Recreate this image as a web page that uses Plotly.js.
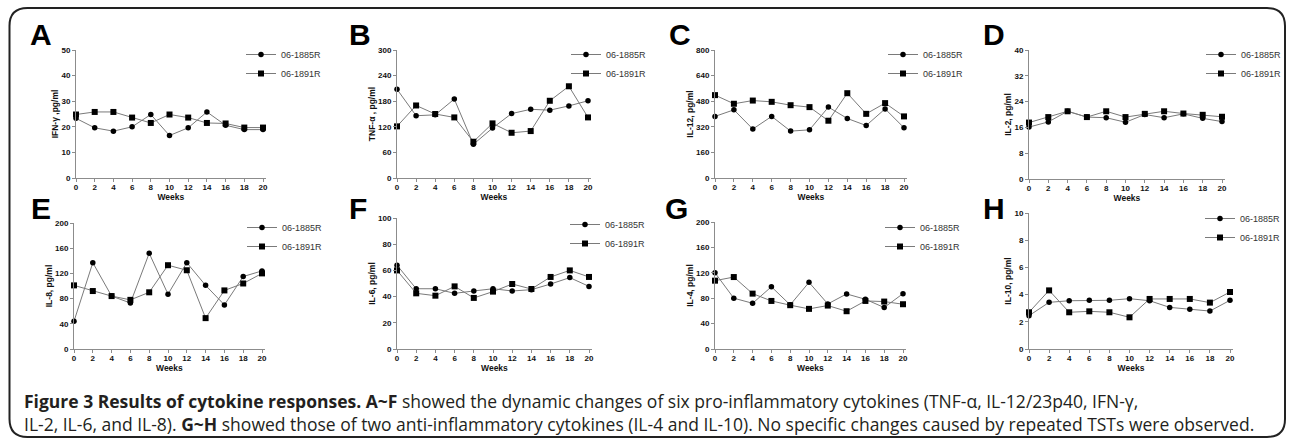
<!DOCTYPE html>
<html><head><meta charset="utf-8">
<script src="https://cdn.plot.ly/plotly-3.0.1.min.js"></script>
<style>html,body{margin:0;padding:0;background:#fff;overflow:hidden}#chart{width:1290px;height:441px}</style>
</head><body><div id="chart"></div>
<script>
// ---------- data ----------
const weeks = [0, 2, 4, 6, 8, 10, 12, 14, 16, 18, 20];
const seriesNames = ['06-1885R', '06-1891R'];
const panelLetters = ['A', 'B', 'C', 'D', 'E', 'F', 'G', 'H'];
const yTitles = ['IFN-γ ,pg/ml', 'TNF-α , pg/ml', 'IL-12, pg/ml', 'IL-2, pg/ml', 'IL-8, pg/ml', 'IL-6, pg/ml', 'IL-4, pg/ml', 'IL-10, pg/ml'];
const xTitle = 'Weeks';

const ifng1885 = [23.3, 19.6, 18.3, 20.0, 24.8, 16.6, 19.6, 25.8, 20.6, 18.9, 18.9];
const ifng1891 = [24.8, 25.8, 25.8, 23.6, 21.5, 24.8, 23.6, 21.5, 21.3, 19.7, 19.7];
const tnfa1885 = [208, 146, 148, 185, 79, 117, 151, 161, 159, 169, 181];
const tnfa1891 = [121, 170, 150, 142, 85, 128, 106, 110, 181, 215, 142];
const il12_1885 = [385, 426, 306, 385, 293, 301, 443, 372, 328, 432, 314];
const il12_1891 = [518, 464, 484, 476, 455, 443, 358, 530, 401, 468, 385];
const il2_1885 = [16.1, 17.7, 21.0, 19.2, 19.0, 17.6, 20.0, 19.0, 20.2, 18.8, 17.8];
const il2_1891 = [17.5, 19.2, 21.0, 19.2, 21.0, 19.2, 20.2, 21.0, 20.3, 19.9, 19.3];
const il8_1885 = [44, 137, 84, 73, 152, 87, 137, 101, 70, 115, 124];
const il8_1891 = [101, 92, 84, 78, 90, 133, 125, 49, 93, 104, 120];
const il6_1885 = [64, 46, 46, 42.5, 44.3, 46, 44.3, 45.3, 49.6, 54.5, 47.8];
const il6_1891 = [60, 42.5, 40.7, 47.8, 39, 43.8, 49.6, 45.8, 55, 60, 55];
const il4_1885 = [120, 80, 72, 98, 69.5, 105, 71, 86.7, 78.3, 65.3, 87.2];
const il4_1891 = [107.6, 113.3, 87.2, 75.7, 69, 63.2, 68.4, 59.5, 75.7, 74.7, 70.5];
const il10_1885 = [2.45, 3.43, 3.55, 3.58, 3.58, 3.7, 3.55, 3.06, 2.92, 2.79, 3.58];
const il10_1891 = [2.7, 4.31, 2.7, 2.77, 2.7, 2.33, 3.68, 3.68, 3.68, 3.41, 4.19];

const ifngTicks = [0, 10, 20, 30, 40, 50];
const tnfaTicks = [0, 60, 120, 180, 240, 300];
const il12Ticks = [0, 160, 320, 480, 640, 800];
const il2Ticks = [0, 8, 16, 24, 32, 40];
const il8Ticks = [0, 40, 80, 120, 160, 200];
const il6Ticks = [0, 20, 40, 60, 80, 100];
const il4Ticks = [0, 40, 80, 120, 160, 200];
const il10Ticks = [0, 2, 4, 6, 8, 10];

const captionLine1 = '<b>Figure 3 Results of cytokine responses. A~F</b> showed the dynamic changes of six pro-inflammatory cytokines (TNF-α, IL-12/23p40, IFN-γ,';
const captionLine2 = 'IL-2, IL-6, and IL-8). <b>G~H</b> showed those of two anti-inflammatory cytokines (IL-4 and IL-10). No specific changes caused by repeated TSTs were observed.';

// ---------- layout ----------
const W = 1290, H = 441;
const px = v => v / W;
const py = v => 1 - v / H;

const seriesA = [ifng1885, tnfa1885, il12_1885, il2_1885, il8_1885, il6_1885, il4_1885, il10_1885];
const seriesB = [ifng1891, tnfa1891, il12_1891, il2_1891, il8_1891, il6_1891, il4_1891, il10_1891];
const tickSets = [ifngTicks, tnfaTicks, il12Ticks, il2Ticks, il8Ticks, il6Ticks, il4Ticks, il10Ticks];

const geo = [
  {x0: 76, x20: 263, yt: 50, yb: 178, lx: 28, ly: 35, gx: 283, gy: 55},
  {x0: 397, x20: 588, yt: 50, yb: 178, lx: 347, ly: 35, gx: 608, gy: 55},
  {x0: 715, x20: 904, yt: 50, yb: 178, lx: 667, ly: 35, gx: 925, gy: 55},
  {x0: 1029, x20: 1222, yt: 50, yb: 179, lx: 981, ly: 35, gx: 1243, gy: 55},
  {x0: 74, x20: 262, yt: 223, yb: 349, lx: 29, ly: 209, gx: 284, gy: 228},
  {x0: 397, x20: 589, yt: 218, yb: 349, lx: 347, ly: 209, gx: 607, gy: 225},
  {x0: 715, x20: 903, yt: 222, yb: 349, lx: 663, ly: 209, gx: 922, gy: 228},
  {x0: 1029, x20: 1230, yt: 213, yb: 349, lx: 981, ly: 209, gx: 1242, gy: 219}
];

const axisFont = {family: 'Liberation Sans, Arial, sans-serif', size: 8, color: '#111', weight: 700};
const titleFont = {family: 'Liberation Sans, Arial, sans-serif', size: 8.5, color: '#111', weight: 700};
const legendFont = {family: 'Liberation Sans, Arial, sans-serif', size: 9, color: '#333'};
const XMAX = 20.3;

const data = [];
const layout = {
  width: W, height: H,
  margin: {l: 0, r: 0, t: 0, b: 0},
  paper_bgcolor: '#fff', plot_bgcolor: 'rgba(0,0,0,0)',
  showlegend: true,
  annotations: [],
  shapes: []
};

for (let i = 0; i < 8; i++) {
  const g = geo[i];
  const n = i + 1;
  const xa = 'xaxis' + (n === 1 ? '' : n);
  const ya = 'yaxis' + (n === 1 ? '' : n);
  const xr = 'x' + (n === 1 ? '' : n);
  const yr = 'y' + (n === 1 ? '' : n);
  const lg = 'legend' + (n === 1 ? '' : n);
  const ticks = tickSets[i];
  const xEnd = g.x0 + (g.x20 - g.x0) * XMAX / 20;

  layout[xa] = {
    domain: [px(g.x0), px(xEnd)], anchor: yr, range: [0, XMAX],
    tickvals: weeks, ticktext: weeks.map(String),
    showline: true, linecolor: '#8c8c8c', linewidth: 1,
    ticks: 'outside', ticklen: 3, tickcolor: '#8c8c8c', tickwidth: 1,
    ticklabelstandoff: -2,
    showgrid: false, zeroline: false, fixedrange: true,
    tickfont: axisFont,
    title: {text: xTitle, font: titleFont, standoff: 0}
  };
  layout[ya] = {
    domain: [py(g.yb), py(g.yt)], anchor: xr, range: [0, ticks[ticks.length - 1]],
    tickvals: ticks, ticktext: ticks.map(String),
    showline: true, linecolor: '#8c8c8c', linewidth: 1,
    ticks: 'outside', ticklen: 3, tickcolor: '#8c8c8c', tickwidth: 1,
    showgrid: false, zeroline: false, fixedrange: true,
    tickfont: axisFont,
    title: {text: yTitles[i], font: titleFont, standoff: 1}
  };
  layout[lg] = {
    x: px(g.gx - 42), y: py(g.gy - 15), xanchor: 'left', yanchor: 'top',
    bgcolor: 'rgba(0,0,0,0)', borderwidth: 0, font: legendFont,
    itemwidth: 30, tracegroupgap: 0, itemclick: false, itemdoubleclick: false
  };

  data.push({
    type: 'scatter', mode: 'lines+markers', x: weeks, y: seriesA[i],
    name: seriesNames[0], xaxis: xr, yaxis: yr, legend: lg,
    line: {color: '#7a7a7a', width: 1},
    marker: {symbol: 'circle', size: 5.5, color: '#000'},
    cliponaxis: false, hoverinfo: 'x+y+name'
  });
  data.push({
    type: 'scatter', mode: 'lines+markers', x: weeks, y: seriesB[i],
    name: seriesNames[1], xaxis: xr, yaxis: yr, legend: lg,
    line: {color: '#7a7a7a', width: 1},
    marker: {symbol: 'square', size: 6, color: '#000'},
    cliponaxis: false, hoverinfo: 'x+y+name'
  });

  layout.annotations.push({
    text: '<b>' + panelLetters[i] + '</b>', xref: 'paper', yref: 'paper',
    x: px(g.lx), y: py(g.ly), xanchor: 'left', yanchor: 'middle', showarrow: false,
    font: {family: 'Liberation Sans, Arial, sans-serif', size: 30, color: '#000'}
  });
}

const capFont = {family: 'Open Sans, Noto Sans, sans-serif', size: 17.5, color: '#231f20'};
layout.annotations.push({
  text: captionLine1 + '<br>' + captionLine2, xref: 'paper', yref: 'paper', x: px(22), y: py(412),
  xanchor: 'left', yanchor: 'middle', showarrow: false, font: capFont, align: 'left'
});

// rounded frame
(function () {
  const L = 9.5, R = 1285, T = 8, B = 437, r = 18;
  const P = (x, y) => px(x) + ',' + py(y);
  const path = 'M' + P(L + r, T) + ' L' + P(R - r, T) + ' Q' + P(R, T) + ' ' + P(R, T + r) +
    ' L' + P(R, B - r) + ' Q' + P(R, B) + ' ' + P(R - r, B) +
    ' L' + P(L + r, B) + ' Q' + P(L, B) + ' ' + P(L, B - r) +
    ' L' + P(L, T + r) + ' Q' + P(L, T) + ' ' + P(L + r, T) + ' Z';
  layout.shapes.push({type: 'path', xref: 'paper', yref: 'paper', path: path,
    line: {color: '#222', width: 2}, fillcolor: 'rgba(0,0,0,0)', layer: 'below'});
})();

Plotly.newPlot('chart', data, layout, {displayModeBar: false, responsive: false});
</script></body></html>
